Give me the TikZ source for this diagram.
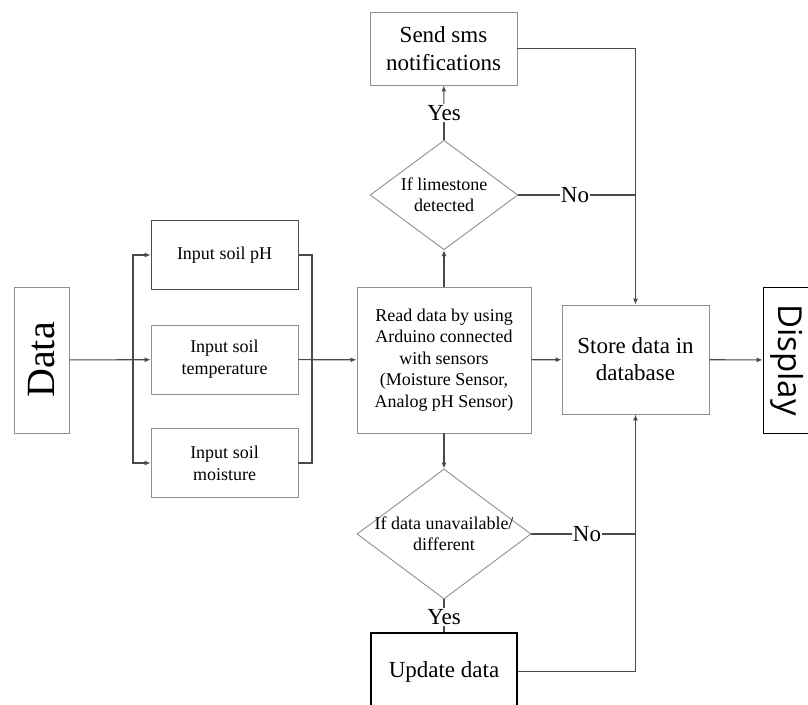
\documentclass[tikz,border=0pt]{standalone}
\usepackage{fontspec}
\setmainfont{Liberation Serif}
\newfontfamily\dispfont{Open Sans}
\usetikzlibrary{calc,shapes,arrows.meta}
\definecolor{boxgray}{HTML}{8F8F8F}
\definecolor{linegray}{HTML}{4A4A4A}
\tikzset{
  box/.style={draw=boxgray,line width=0.9pt,align=center,inner sep=2pt},
  decide/.style={diamond,draw=boxgray,line width=0.9pt,align=center,aspect=1.35,
    font=\fontsize{18}{21}\selectfont},
  flow/.style={draw=linegray,line width=1.1pt},
  tip/.style={-{Latex[length=6pt,width=5pt]}},
  answer/.style={inner sep=1pt,font=\fontsize{23}{24}\selectfont},
}
\begin{document}
\begin{tikzpicture}[x=1pt,y=-1pt]
  \useasboundingbox (0,0) rectangle (808,704);
  %% Source and the three inputs
  \node[box,rotate=90,minimum width=146,minimum height=55,
    font=\fontsize{40}{42}\selectfont] (data) at (41.5,360) {Data};
  \foreach \name/\y/\clr/\txt in {inph/255/black!70/Input soil pH,
    intemp/359.5/boxgray/Input soil\\temperature,
    inmoist/463/boxgray/Input soil\\moisture}
  {
    \node[box,draw=\clr,minimum width=147,minimum height=69,
      font=\fontsize{18}{22}\selectfont] (\name) at (224.5,\y) {\txt};
  }
  \coordinate (busL) at (133,360);
  \coordinate (busR) at (312,360);

  %% Processing column
  \node[box,minimum width=174,minimum height=146,font=\fontsize{18}{21.5}\selectfont]
    (read) at (444,360) {Read data by using\\Arduino connected\\with sensors\\(Moisture Sensor,\\Analog pH Sensor)};
  \node[decide,minimum width=146,minimum height=108] (lime) at (444,195) {If limestone\\detected};
  \node[box,minimum width=147,minimum height=73,font=\fontsize{23}{28}\selectfont]
    (sms) at (443.5,48.5) {Send sms\\notifications};
  \node[decide,inner sep=-10pt,minimum width=174,minimum height=130] (avail) at (444,534)
    {If data unavailable/\\different};
  \node[box,draw=black,line width=1.6pt,minimum width=146,minimum height=77,
    font=\fontsize{23}{26}\selectfont] (update) at (444,671.5) {Update data};
  \node[answer] (yesA) at (444,113) {Yes};
  \node[answer] (yesB) at (444,617) {Yes};
  \node[answer] (noA) at (575,195) {No};
  \node[answer] (noB) at (587,534) {No};

  %% Storage and output
  \node[box,minimum width=147,minimum height=109,font=\fontsize{23}{27}\selectfont]
    (store) at (635.5,359.5) {Store data in\\database};
  \node[box,draw=black,rotate=-90,minimum width=146,minimum height=49,
    font=\dispfont\fontsize{33}{35}\selectfont] (disp) at (787.5,360) {Display};
  \coordinate (jTop) at (635,195);
  \coordinate (jBot) at (635,534);

  %% Connectors
  \draw[flow,tip] (data) -- (intemp);
  \draw[flow,tip] (busL) |- (inph.west);
  \draw[flow,tip] (busL) |- (inmoist.west);
  \draw[flow] (inph.east) -| (busR) |- (inmoist.east);
  \draw[flow,tip] (intemp) -- (read);
  \draw[flow,tip] (read) -- (lime);
  \draw[flow] (lime) -- (yesA);
  \draw[flow,tip] (yesA) -- (sms);
  \draw[flow] (lime) -- (noA) -- (jTop);
  \draw[flow,tip] (sms.east) -| (store.north);
  \draw[flow,tip] (read) -- (avail);
  \draw[flow] (avail) -- (yesB) -- (update);
  \draw[flow] (avail) -- (noB) -- (jBot);
  \draw[flow,tip] (update.east) -| (store.south);
  \draw[flow,tip] (read) -- (store);
  \draw[flow,tip] (store) -- (disp);
\end{tikzpicture}
\end{document}
